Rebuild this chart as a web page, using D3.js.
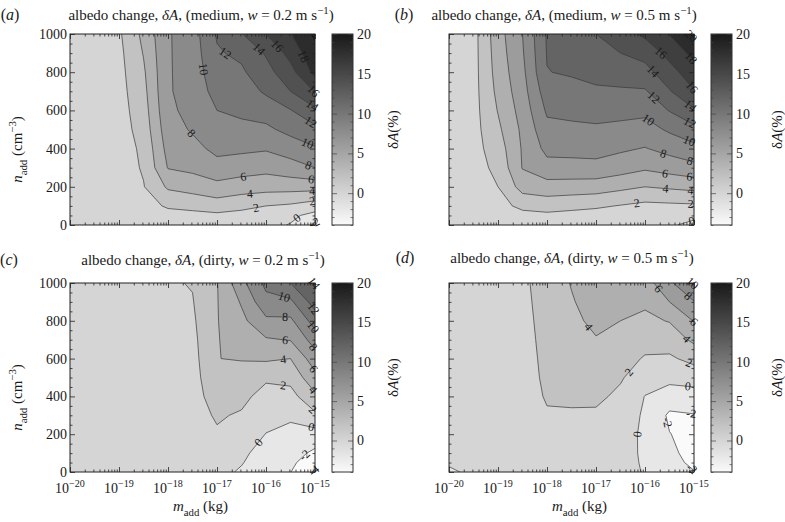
<!DOCTYPE html>
<html>
<head>
<meta charset="utf-8">
<script src="https://cdn.jsdelivr.net/npm/d3@7"></script>
<style>
html,body{margin:0;padding:0;background:#fff;}
text{font-family:"Liberation Serif","Times New Roman",Times,serif;fill:#1a1a1a;}
</style>
</head>
<body>
<svg id="chart" width="785" height="522" xmlns="http://www.w3.org/2000/svg"></svg>
<script>
// ---------------- data ----------------
const logMass = [-20,-19.5,-19,-18.5,-18,-17.5,-17,-16.5,-16,-15.5,-15];   // log10(m_add / kg)
const nAdd = [0,50,100,200,300,400,500,600,700,800,900,1000];              // cm^-3
const contourLevels = [-4,-2,0,2,4,6,8,10,12,14,16,18,20];
const colorbarLabels = [0,5,10,15,20];
const nAddTicks = [0,200,400,600,800,1000];
const massDecadeExponents = [-20,-19,-18,-17,-16,-15];

// dA (%) : one array per m_add column, values along n_add
const dA_medium_w02 = [
 [0.2,0.5,0.7,0.8,0.9,0.9,1.0,1.0,1.0,1.0,1.0,1.0],
 [0.2,0.5,0.7,0.9,1.0,1.0,1.1,1.1,1.1,1.1,1.2,1.2],
 [0.2,0.6,0.8,1.0,1.0,1.0,1.1,1.2,1.3,1.4,1.5,1.7],
 [0.1,0.6,1.1,1.9,2.2,2.4,2.8,3.1,3.4,3.7,4.1,4.5],
 [0.2,1.2,2.3,4.3,6.1,6.7,7.2,7.6,7.8,7.8,7.8,7.8],
 [0.2,1.4,2.6,4.8,6.5,7.4,8.2,8.6,8.8,8.9,9.0,9.1],
 [0.3,1.6,3.0,5.4,7.3,8.5,9.3,10.0,10.7,11.3,11.8,12.2],
 [0.4,1.4,2.5,5.0,6.9,8.4,9.5,10.4,11.0,11.7,12.4,13.9],
 [0.5,1.3,2.0,4.8,6.6,8.2,9.6,10.9,12.3,13.3,14.2,16.0],
 [-0.1,0.4,1.7,4.8,7.2,8.9,10.6,11.9,14.0,15.3,16.7,17.9],
 [-2.5,-0.6,1.0,4.8,8.0,9.8,11.5,13.6,16.1,18.6,19.5,20.5]
];
const dA_medium_w05 = [
 [0.1,0.4,0.6,0.8,0.9,1.0,1.0,1.0,1.0,1.0,1.0,1.0],
 [0.1,0.5,0.8,1.1,1.2,1.3,1.3,1.3,1.3,1.3,1.3,1.3],
 [0.1,0.7,1.3,2.0,2.5,3.0,3.6,4.1,4.5,4.8,5.0,5.2],
 [0.1,1.4,2.5,4.8,6.1,6.2,6.4,6.8,7.2,7.5,7.8,8.0],
 [0.2,1.6,2.8,5.2,7.3,8.55,9.45,10.3,11.1,11.95,12.1,12.2],
 [0.2,1.4,2.55,5.1,7.35,8.6,9.6,10.5,11.4,12.2,12.7,13.0],
 [0.2,1.2,2.3,5.0,7.4,8.7,9.7,10.7,11.7,12.6,13.3,14.0],
 [0.25,1.0,1.9,4.5,6.9,8.3,9.5,10.6,11.75,12.9,14.0,15.2],
 [0.3,0.9,1.5,4.0,6.3,7.9,9.2,10.5,11.8,13.3,14.7,16.4],
 [0.3,0.7,1.6,4.3,6.85,8.65,10.3,12.1,13.85,15.25,16.65,18.1],
 [-0.6,0.55,1.7,4.6,7.4,9.4,11.4,13.8,15.9,17.2,18.6,20.5]
];
const dA_dirty_w02 = [
 [0.8,0.8,0.8,0.9,0.9,0.9,0.9,0.9,0.9,0.9,0.9,0.9],
 [0.8,0.8,0.9,0.9,1.0,1.0,1.0,1.0,1.0,1.0,1.0,1.0],
 [0.8,0.9,0.9,1.0,1.0,1.1,1.1,1.1,1.2,1.2,1.2,1.2],
 [0.8,0.9,1.0,1.1,1.2,1.2,1.3,1.3,1.4,1.4,1.5,1.5],
 [0.8,0.9,1.0,1.1,1.2,1.3,1.4,1.5,1.6,1.7,1.7,1.8],
 [0.6,0.8,1.0,1.2,1.3,1.3,1.3,1.3,1.5,1.7,1.9,2.1],
 [0.5,0.7,1.2,1.8,2.2,2.8,3.4,3.98,3.9,3.9,3.9,3.9],
 [-0.2,0.1,0.3,1.2,1.8,2.5,3.3,4.1,4.8,5.5,6.2,7.4],
 [-1.2,-0.9,-0.6,-0.05,0.7,1.3,2.3,4.3,5.8,7.6,9.4,10.5],
 [-1.95,-1.6,-1.2,-0.5,0.3,1.3,2.6,4.0,6.1,7.6,9.6,12.0],
 [-4.3,-3.2,-2.4,-0.8,1.6,3.6,5.4,7.1,8.9,10.9,12.9,14.1]
];
const dA_dirty_w05 = [
 [-0.4,0.3,0.6,0.8,0.9,1.0,1.0,1.0,1.0,1.0,1.0,1.0],
 [0.5,0.6,0.7,0.8,0.9,1.0,1.0,1.0,1.0,1.0,1.0,1.0],
 [0.5,0.6,0.7,0.8,0.9,1.0,1.0,1.1,1.1,1.1,1.2,1.2],
 [0.4,0.6,0.7,0.9,1.0,1.0,1.1,1.2,1.3,1.4,1.5,1.6],
 [0.4,0.6,0.8,1.3,1.8,2.2,2.4,2.5,2.6,2.7,2.8,2.9],
 [0.4,0.6,0.8,1.3,1.8,2.3,2.7,3.0,3.3,3.6,3.85,4.1],
 [0.4,0.6,0.8,1.2,1.7,2.4,2.9,3.4,3.9,4.4,4.8,5.0],
 [0.5,0.6,0.7,0.9,1.2,1.6,2.2,2.9,3.5,4.0,4.4,4.8],
 [-0.1,-0.2,-0.3,-0.4,-0.3,-0.05,0.9,1.8,2.8,3.6,4.3,5.1],
 [-0.8,-1.2,-1.5,-1.95,-2.3,-1.0,0.6,1.7,2.9,4.1,6.0,7.6],
 [-1.9,-2.5,-2.8,-2.6,-2.1,-0.8,0.8,2.6,4.4,6.1,7.9,10.2]
];

// contour label anchors: [level, log10 m_add, n_add]
const labels_medium_w02 = [
 [10,-17.31,814],[12,-16.97,857],[14,-16.19,909],[16,-15.78,936],[18,-15.24,883],
 [16,-15.07,692],[14,-15.07,622],[12,-15.12,526],[10,-15.15,430],[8,-15.15,300],
 [6,-15.08,239],[4,-15.06,186],[2,-15.06,134],[0,-15.4,47],[-2,-15.03,20],
 [8,-17.31,535],[6,-16.46,239],[4,-16.33,160],[2,-16.19,73]
];
const labels_medium_w05 = [
 [16,-15.51,948],[14,-15.79,817],[12,-15.79,678],[10,-15.92,557],[8,-15.58,409],
 [6,-15.58,287],[4,-15.58,191],[2,-16.16,100],
 [20,-15.12,974],[18,-15.12,861],[16,-15.12,704],[14,-15.12,609],[12,-15.1,530],
 [10,-15.12,426],[8,-15.1,322],[6,-15.1,243],[4,-15.07,183],[2,-15.07,113],[0,-15.05,26]
];
const labels_dirty_w02 = [
 [10,-15.58,970],[8,-15.61,828],[6,-15.61,696],[4,-15.65,598],[2,-15.65,457],
 [0,-16.19,165],[-2,-15.2,85],
 [14,-15.08,988],[12,-15.08,855],[10,-15.08,758],[8,-15.08,651],[6,-15.08,536],
 [4,-15.1,421],[2,-15.1,315],[0,-15.08,235],[-4,-15.05,15]
];
const labels_dirty_w05 = [
 [6,-15.68,979],[4,-17.08,784],[2,-16.2,501],[0,-16.16,200],[-2,-15.55,262],
 [10,-15.04,996],[8,-15.2,908],[6,-15.06,775],[4,-15.12,713],[2,-15.1,580],
 [0,-15.12,465],[-2,-15.05,324],[-2,-15.03,23]
];

// ---------------- drawing ----------------
const svg = d3.select("#chart");
const cbMin = -4, cbMax = 20;
function grayVal(v){ return Math.round(250 - (v - cbMin) / (cbMax - cbMin) * 225); }
function gray(v){ const g = grayVal(v); return `rgb(${g},${g},${g})`; }

function rich(sel, parts, size){
  let shift = 0;
  parts.forEach(([t,k]) => {
    const ts = sel.append("tspan").text(t);
    let target = 0, fs = size;
    if (k === "sub") { target = size*0.32; fs = size*0.72; }
    if (k === "sup") { target = -size*0.42; fs = size*0.72; }
    ts.attr("dy", (target - shift).toFixed(2)).attr("font-size", fs);
    if (k === "i") ts.attr("font-style", "italic");
    shift = target;
  });
}

const panels = [
 {tag:"a", kind:"medium", w:"0.2", data:dA_medium_w02, labels:labels_medium_w02,
  x0:70, x1:315, y0:34, y1:225, yLabels:true, xLabels:false, titleCx:201, titleY:20, tagCx:10, cbLabX:398},
 {tag:"b", kind:"medium", w:"0.5", data:dA_medium_w05, labels:labels_medium_w05,
  x0:449, x1:694, y0:34, y1:225, yLabels:false, xLabels:false, titleCx:564, titleY:20, tagCx:404, cbLabX:782},
 {tag:"c", kind:"dirty", w:"0.2", data:dA_dirty_w02, labels:labels_dirty_w02,
  x0:70, x1:315, y0:283, y1:472, yLabels:true, xLabels:true, titleCx:203, titleY:265, tagCx:9, cbLabX:398},
 {tag:"d", kind:"dirty", w:"0.5", data:dA_dirty_w05, labels:labels_dirty_w05,
  x0:449, x1:694, y0:283, y1:472, yLabels:false, xLabels:true, titleCx:572, titleY:263, tagCx:405, cbLabX:782}
];

const colToLog = d3.scaleLinear().domain(d3.range(logMass.length)).range(logMass);
const rowToN = d3.scaleLinear().domain(d3.range(nAdd.length)).range(nAdd);

// gradient for colorbar
const defs = svg.append("defs");
const grad = defs.append("linearGradient").attr("id","cbgrad")
  .attr("x1",0).attr("y1",1).attr("x2",0).attr("y2",0);
d3.range(cbMin, cbMax+0.01, 2).forEach(v => {
  grad.append("stop").attr("offset", (v-cbMin)/(cbMax-cbMin)).attr("stop-color", gray(v));
});

panels.forEach((P, pi) => {
  const g = svg.append("g");
  const xS = d3.scaleLinear().domain([-20,-15]).range([P.x0, P.x1]);
  const xLog = d3.scaleLog().domain([1e-20,1e-15]).range([P.x0, P.x1]);
  const yS = d3.scaleLinear().domain([0,1000]).range([P.y1, P.y0]);

  // padded grid for d3.contours
  const nx = logMass.length, ny = nAdd.length, px = nx+2, py = ny+2;
  const vals = new Array(px*py);
  for (let r=0; r<py; r++) for (let c=0; c<px; c++) {
    const i = Math.min(nx-1, Math.max(0, c-1)), j = Math.min(ny-1, Math.max(0, r-1));
    vals[r*px+c] = P.data[i][j];
  }
  const raw = d3.contours().size([px, py]).thresholds(contourLevels)(vals);
  const tf = p => [xS(colToLog(p[0]-1.5)), yS(rowToN(p[1]-1.5))];
  const cons = raw.map(c => ({type:"MultiPolygon", value:c.value,
     coordinates: c.coordinates.map(poly => poly.map(ring => ring.map(tf)))}));

  const clipId = "clip"+pi;
  defs.append("clipPath").attr("id", clipId).append("rect")
    .attr("x",P.x0).attr("y",P.y0).attr("width",P.x1-P.x0).attr("height",P.y1-P.y0);
  const path = d3.geoPath();
  const cg = g.append("g").attr("clip-path", `url(#${clipId})`);
  cg.append("rect").attr("x",P.x0).attr("y",P.y0).attr("width",P.x1-P.x0).attr("height",P.y1-P.y0).attr("fill","#fff");
  cg.selectAll("path.fill").data(cons).join("path").attr("class","fill")
    .attr("d", path).attr("fill", d => gray(d.value)).attr("fill-rule","evenodd").attr("stroke","none");
  cg.selectAll("path.line").data(cons).join("path").attr("class","line")
    .attr("d", path).attr("fill","none").attr("stroke","#3a3a3a").attr("stroke-width",0.7);

  // axes ticks (inward)
  const majors = massDecadeExponents.map(e => Math.pow(10, e));
  const minors = xLog.ticks().filter(v => Math.abs(Math.log10(v) - Math.round(Math.log10(v))) > 1e-6);
  const tickStyle = s => { s.select(".domain").remove(); s.selectAll("line").attr("stroke","#222").attr("stroke-width",0.8); s.selectAll("text").remove(); };
  g.append("g").attr("transform",`translate(0,${P.y1})`).call(d3.axisBottom(xLog).tickValues(majors).tickSize(-5).tickFormat("")).call(tickStyle);
  g.append("g").attr("transform",`translate(0,${P.y1})`).call(d3.axisBottom(xLog).tickValues(minors).tickSize(-2.5).tickFormat("")).call(tickStyle);
  g.append("g").attr("transform",`translate(0,${P.y0})`).call(d3.axisTop(xLog).tickValues(majors).tickSize(-5).tickFormat("")).call(tickStyle);
  g.append("g").attr("transform",`translate(0,${P.y0})`).call(d3.axisTop(xLog).tickValues(minors).tickSize(-2.5).tickFormat("")).call(tickStyle);
  const nMinor = d3.range(0,1001,50).filter(v => v % 200 !== 0);
  g.append("g").attr("transform",`translate(${P.x1},0)`).call(d3.axisRight(yS).tickValues(nAddTicks).tickSize(-5).tickFormat("")).call(tickStyle);
  g.append("g").attr("transform",`translate(${P.x1},0)`).call(d3.axisRight(yS).tickValues(nMinor).tickSize(-2.5).tickFormat("")).call(tickStyle);
  g.append("g").attr("transform",`translate(${P.x0},0)`).call(d3.axisLeft(yS).tickValues(nMinor).tickSize(-2.5).tickFormat("")).call(tickStyle);
  const yl = g.append("g").attr("transform",`translate(${P.x0},0)`)
    .call(d3.axisLeft(yS).tickValues(nAddTicks).tickSize(-5).tickPadding(3).tickFormat(P.yLabels ? d3.format("d") : ""));
  yl.select(".domain").remove();
  yl.selectAll("line").attr("stroke","#222").attr("stroke-width",0.8);
  yl.selectAll("text").attr("font-size",14).attr("fill","#1a1a1a").attr("font-family",null);

  // frame
  g.append("rect").attr("x",P.x0).attr("y",P.y0).attr("width",P.x1-P.x0).attr("height",P.y1-P.y0)
    .attr("fill","none").attr("stroke","#222").attr("stroke-width",1);

  // x tick labels
  if (P.xLabels) {
    massDecadeExponents.forEach(e => {
      const t = g.append("text").attr("x", xLog(Math.pow(10,e))).attr("y", P.y1+21).attr("text-anchor","middle");
      rich(t, [["10",""],["\u2212"+Math.abs(e),"sup"]], 14);
    });
    const xl = g.append("text").attr("x", (P.x0+P.x1)/2 + 8).attr("y", P.y1+39).attr("text-anchor","middle");
    rich(xl, [["m","i"],["add","sub"],[" (kg)",""]], 15);
  }
  if (P.yLabels) {
    const cy = (P.y0+P.y1)/2 + 20;
    const t = g.append("text").attr("transform",`translate(22,${cy}) rotate(-90)`).attr("text-anchor","middle");
    rich(t, [["n","i"],["add","sub"],[" (cm",""],["\u22123","sup"],[")",""]], 15);
  }

  // title and tag
  const tt = g.append("text").attr("x", P.titleCx).attr("y", P.titleY).attr("text-anchor","middle");
  rich(tt, [["albedo change, ",""],["\u03b4A","i"],[", ("+P.kind+", ",""],["w","i"],[" = "+P.w+" m s",""],["\u22121","sup"],[")",""]], 15);
  const tg = g.append("text").attr("x", P.tagCx).attr("y", P.titleY).attr("text-anchor","middle");
  rich(tg, [["(",""],[P.tag,"i"],[")",""]], 16);

  // contour labels snapped onto contour lines
  const inside = p => p[0] >= P.x0-0.5 && p[0] <= P.x1+0.5 && p[1] >= P.y0-0.5 && p[1] <= P.y1+0.5;
  const lg = g.append("g");
  P.labels.forEach(([lev, lm, n]) => {
    const c = cons.find(d => d.value === lev);
    if (!c) return;
    const hx = xS(lm), hy = yS(n);
    let best = null, bd = Infinity;
    c.coordinates.forEach(poly => poly.forEach(ring => {
      for (let k=0; k<ring.length-1; k++) {
        const p = ring[k], q = ring[k+1];
        if (!inside(p) || !inside(q)) continue;
        const dx = q[0]-p[0], dy = q[1]-p[1], L = dx*dx+dy*dy;
        if (L < 1e-9) continue;
        let t = ((hx-p[0])*dx + (hy-p[1])*dy)/L; t = Math.max(0, Math.min(1, t));
        const X = p[0]+t*dx, Y = p[1]+t*dy, d = (X-hx)**2 + (Y-hy)**2;
        if (d < bd) { bd = d; best = {X, Y, a: Math.atan2(dy,dx)*180/Math.PI}; }
      }
    }));
    if (!best) return;
    let a = best.a; if (a > 90) a -= 180; if (a < -90) a += 180;
    lg.append("text").attr("transform", `translate(${best.X.toFixed(1)},${best.Y.toFixed(1)}) rotate(${a.toFixed(1)})`)
      .attr("text-anchor","middle").attr("dominant-baseline","central")
      .attr("font-size",12).attr("fill","#2a2a2a").text(String(lev));
  });

  // colorbar
  const cbx0 = P.x1 + 17, cbx1 = cbx0 + 21;
  const cbS = d3.scaleLinear().domain([cbMin, cbMax]).range([P.y1, P.y0]);
  g.append("rect").attr("x",cbx0).attr("y",P.y0).attr("width",cbx1-cbx0).attr("height",P.y1-P.y0)
    .attr("fill","url(#cbgrad)");
  const cbMinor = d3.range(cbMin, cbMax+1, 1).filter(v => v % 5 !== 0);
  const cbTickStyle = s => { s.select(".domain").remove(); s.selectAll("line").attr("stroke","#444").attr("stroke-width",0.7); };
  g.append("g").attr("transform",`translate(${cbx0},0)`).call(d3.axisLeft(cbS).tickValues(cbMinor).tickSize(-2.5).tickFormat("")).call(cbTickStyle);
  g.append("g").attr("transform",`translate(${cbx0},0)`).call(d3.axisLeft(cbS).tickValues(colorbarLabels).tickSize(-5).tickFormat("")).call(cbTickStyle);
  g.append("g").attr("transform",`translate(${cbx1},0)`).call(d3.axisRight(cbS).tickValues(cbMinor).tickSize(-2.5).tickFormat("")).call(cbTickStyle);
  const cr = g.append("g").attr("transform",`translate(${cbx1},0)`)
    .call(d3.axisRight(cbS).tickValues(colorbarLabels).tickSize(-5).tickPadding(4).tickFormat(d3.format("d")));
  cbTickStyle(cr);
  cr.selectAll("text").attr("font-size",14).attr("fill","#1a1a1a").attr("font-family",null);
  g.append("rect").attr("x",cbx0).attr("y",P.y0).attr("width",cbx1-cbx0).attr("height",P.y1-P.y0)
    .attr("fill","none").attr("stroke","#333").attr("stroke-width",1);
  const cl = g.append("text").attr("transform",`translate(${P.cbLabX},${(P.y0+P.y1)/2}) rotate(-90)`).attr("text-anchor","middle");
  rich(cl, [["\u03b4",""],["A","i"],["(%)",""]], 15);
});
</script>
</body>
</html>
